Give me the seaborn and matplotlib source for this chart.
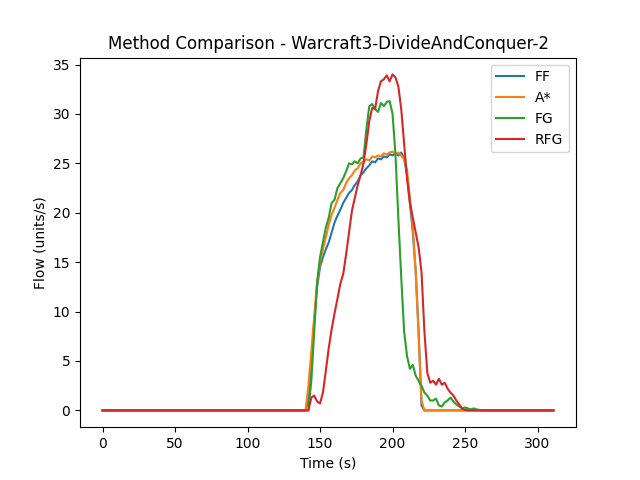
import pandas as pd
import matplotlib
matplotlib.use('Agg')
import matplotlib.pyplot as plt
import seaborn as sns

# time samples (s)
time_s = [0, 138,
          140, 142, 144, 146, 148, 150, 152, 154, 156, 158,
          160, 162, 164, 166, 168, 170, 172, 174, 176, 178,
          180, 182, 184, 186, 188, 190, 192, 194, 196, 198,
          200, 202, 204, 206, 208, 210, 212, 214, 216, 218,
          220, 222, 224, 226, 228, 230, 232, 234, 236, 238,
          240, 242, 244, 246, 248, 250, 252, 254, 256, 258,
          260, 262, 311]

ff = [0, 0,
      0, 1.0, 5.0, 9.0, 12.5, 14.5, 15.5, 16.3, 17.0, 18.0,
      19.0, 19.7, 20.3, 21.0, 21.5, 22.0, 22.3, 22.8, 23.2, 23.8,
      24.1, 24.5, 24.8, 25.2, 25.1, 25.5, 25.4, 25.7, 25.6, 25.9,
      25.8, 26.0, 25.8, 26.1, 25.5, 23.8, 21.0, 18.0, 14.0, 8.0,
      0.5, 0, 0, 0, 0, 0, 0, 0, 0, 0,
      0, 0, 0, 0, 0, 0, 0, 0, 0, 0,
      0, 0, 0]

astar = [0, 0,
         0, 2.5, 6.0, 9.5, 13.0, 15.0, 16.3, 17.5, 18.8, 19.8,
         20.5, 21.3, 22.0, 22.3, 23.0, 23.5, 23.8, 24.3, 24.5, 25.0,
         25.2, 25.4, 25.3, 25.7, 25.6, 25.8, 25.7, 26.0, 25.9, 26.1,
         26.2, 25.9, 26.1, 25.8, 25.4, 24.3, 21.5, 18.6, 14.0, 7.5,
         1.0, 0, 0, 0, 0, 0, 0, 0, 0, 0,
         0, 0, 0, 0, 0, 0, 0, 0, 0, 0,
         0, 0, 0]

fg = [0, 0,
      0, 0, 3.0, 8.0, 13.0, 15.5, 17.0, 18.5, 19.5, 21.0,
      21.3, 22.5, 23.0, 23.5, 24.2, 25.0, 24.9, 25.2, 25.0, 25.5,
      25.6, 28.5, 30.8, 31.0, 30.5, 30.2, 31.1, 30.8, 31.2, 31.3,
      30.0, 26.0, 19.5, 13.5, 8.0, 5.5, 4.2, 4.6, 3.5, 3.0,
      2.5, 1.8, 1.5, 1.0, 1.0, 1.2, 0.5, 0.4, 0.8, 1.0,
      1.3, 0.9, 0.6, 0.4, 0.2, 0.3, 0.2, 0.1, 0.2, 0.1,
      0.05, 0, 0]

rfg = [0, 0,
       0, 0, 1.3, 1.5, 0.9, 0.7, 1.8, 4.0, 6.3, 8.2,
       9.8, 11.3, 12.8, 13.8, 15.8, 18.0, 20.2, 21.5, 22.8, 23.8,
       25.0, 27.0, 29.3, 30.6, 30.5, 32.3, 33.3, 33.5, 33.9, 33.3,
       34.0, 33.7, 32.8, 30.5, 27.0, 23.5, 21.0, 19.5, 18.0, 16.5,
       14.0, 8.0, 3.8, 2.8, 3.0, 2.6, 3.2, 2.6, 2.8, 2.2,
       1.8, 1.5, 1.0, 0.6, 0.2, 0.05, 0, 0, 0, 0,
       0, 0, 0]

methods = ['FF', 'A*', 'FG', 'RFG']
series = [ff, astar, fg, rfg]
colors = ['#1f77b4', '#ff7f0e', '#2ca02c', '#d62728']

fig, ax = plt.subplots(figsize=(6.4, 4.8), dpi=100)
for name, vals, col in zip(methods, series, colors):
    sns.lineplot(x=time_s, y=vals, label=name, color=col, ax=ax, linewidth=1.5)

ax.set_title('Method Comparison - Warcraft3-DivideAndConquer-2')
ax.set_xlabel('Time (s)')
ax.set_ylabel('Flow (units/s)')
ax.legend(loc='upper right')
fig.savefig('out.png', dpi=100)
